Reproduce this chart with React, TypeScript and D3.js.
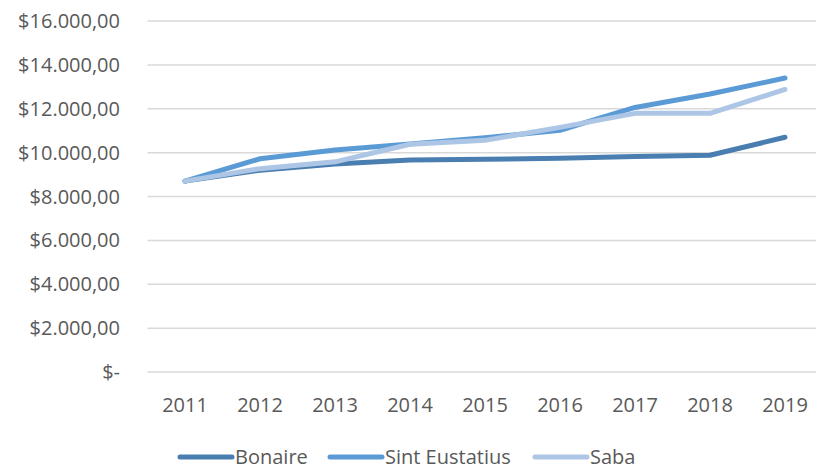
import { useRef, useEffect } from "react";
import * as d3 from "d3";

const years = ["2011", "2012", "2013", "2014", "2015", "2016", "2017", "2018", "2019"];
const bonaire = [8700, 9200, 9480, 9660, 9700, 9740, 9820, 9880, 10700];
const sintEustatius = [8700, 9720, 10120, 10390, 10680, 11020, 12060, 12670, 13400];
const saba = [8700, 9270, 9580, 10380, 10560, 11150, 11790, 11790, 12880];
const yTicks = [0, 2000, 4000, 6000, 8000, 10000, 12000, 14000, 16000];

const seriesNames = ["Bonaire", "Sint Eustatius", "Saba"];
const seriesColors = ["#4a7eb1", "#5b9bd5", "#adc6e5"];

const W = 816;
const H = 470;

function fmt(v: number) {
    if (v === 0) return "$-";
    const s = d3.format(",.2f")(v); // 16,000.00
    return "$" + s.replace(/,/g, "#").replace(".", ",").replace(/#/g, ".");
}

export default function App() {
    const svgRef = useRef<SVGSVGElement>(null);

    useEffect(() => {
        const svg = d3.select(svgRef.current as SVGSVGElement);
        svg.selectAll("*").remove();

        const left = 147.5, right = 822.5, top = 21, bottom = 372;

        const x = d3.scaleBand().domain(years).range([left, right]);
        const y = d3.scaleLinear().domain([0, 16000]).range([bottom, top]);

        const font = "'Open Sans', 'Noto Sans', sans-serif";
        const fs = 20;

        // gridlines
        svg.append("g")
            .selectAll("line")
            .data(yTicks)
            .join("line")
            .attr("x1", left)
            .attr("x2", right)
            .attr("y1", d => y(d))
            .attr("y2", d => y(d))
            .attr("stroke", "#d9d9d9")
            .attr("stroke-width", 1.5);

        // y labels
        svg.append("g")
            .selectAll("text")
            .data(yTicks)
            .join("text")
            .attr("x", 120)
            .attr("y", d => y(d))
            .attr("dy", "0.35em")
            .attr("text-anchor", "end")
            .attr("font-family", font)
            .attr("font-size", fs)
            .attr("fill", "#595959")
            .text(d => fmt(d));

        // x labels
        svg.append("g")
            .selectAll("text")
            .data(years)
            .join("text")
            .attr("x", d => (x(d) as number) + x.bandwidth() / 2)
            .attr("y", 405)
            .attr("dy", "0.35em")
            .attr("text-anchor", "middle")
            .attr("font-family", font)
            .attr("font-size", fs)
            .attr("fill", "#595959")
            .text(d => d);

        const line = d3.line<number>()
            .x((d, i) => (x(years[i]) as number) + x.bandwidth() / 2)
            .y(d => y(d));

        const all = [bonaire, sintEustatius, saba];
        all.forEach((vals, k) => {
            svg.append("path")
                .attr("d", line(vals))
                .attr("fill", "none")
                .attr("stroke", seriesColors[k])
                .attr("stroke-width", 5)
                .attr("stroke-linecap", "round")
                .attr("stroke-linejoin", "round");
        });

        // legend
        const legendX = [180, 330, 535];
        const legend = svg.append("g")
            .selectAll("g")
            .data(seriesNames)
            .join("g")
            .attr("transform", (d, i) => `translate(${legendX[i]},457)`);
        legend.append("line")
            .attr("x1", 0)
            .attr("x2", 52)
            .attr("stroke", (d, i) => seriesColors[i])
            .attr("stroke-width", 5)
            .attr("stroke-linecap", "round");
        legend.append("text")
            .attr("x", 55)
            .attr("dy", "0.35em")
            .attr("font-family", font)
            .attr("font-size", fs)
            .attr("fill", "#595959")
            .text(d => d);
    }, []);

    return <svg ref={svgRef} width={W} height={H} style={{ display: "block", position: "absolute", left: 0, top: 0 }} />;
}
